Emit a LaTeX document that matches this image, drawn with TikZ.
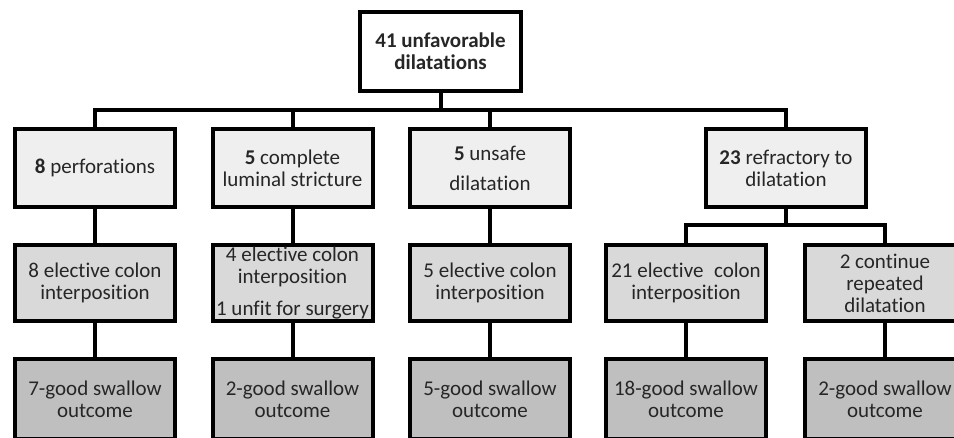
\documentclass[tikz,border=0pt]{standalone}
\usepackage{fontspec}
\setmainfont{Carlito}[Ligatures=NoCommon]
\definecolor{fillA}{HTML}{EFEFEF}
\definecolor{fillB}{HTML}{D9D9D9}
\definecolor{fillC}{HTML}{BFBFBF}
\definecolor{txt}{HTML}{262626}
\begin{document}
\begin{tikzpicture}[x=1pt,y=-1pt,
  box/.style={draw=black, line width=4pt, align=center, inner sep=0pt,
    font=\fontsize{21}{22}\selectfont, text=txt,
    minimum width=160pt, minimum height=78pt},
  lvlA/.style={box, fill=fillA},
  lvlB/.style={box, fill=fillB, minimum height=76pt},
  lvlC/.style={box, fill=fillC, minimum height=80pt},
  conn/.style={draw=black, line width=4pt, line join=miter}]
\useasboundingbox (0,0) rectangle (954,437);
\clip (0,0) rectangle (954,437);
\fill[white] (0,0) rectangle (954,437);

\node[box, fill=white, minimum width=161pt, minimum height=79pt] (top) at (440.5,51.5)
  {\bfseries 41 unfavorable\\\bfseries dilatations};

\node[lvlA] (p1) at (95,168) {\textbf{8} perforations};
\node[lvlA] (p2) at (292.5,168) {\textbf{5} complete\\luminal stricture};
\node[lvlA, font=\fontsize{21}{30}\selectfont] (p3) at (490,168) {\textbf{5} unsafe\\dilatation};
\node[lvlA] (p4) at (786,168) {\textbf{23} refractory to\\dilatation};

\node[lvlB] (q1) at (95,283) {8 elective colon\\interposition};
\node[lvlB] (q2) at (292.5,283) {4 elective colon\\interposition\\[10pt]1 unfit for surgery};
\node[lvlB] (q3) at (490,283) {5 elective colon\\interposition};
\node[lvlB] (q4) at (686,283) {21 elective\enspace colon\\interposition};
\node[lvlB] (q5) at (885,283) {2 continue\\repeated\\dilatation};

\node[lvlC] (r1) at (95,399) {7-good swallow\\outcome};
\node[lvlC] (r2) at (292.5,399) {2-good swallow\\outcome};
\node[lvlC] (r3) at (490,399) {5-good swallow\\outcome};
\node[lvlC] (r4) at (686,399) {18-good swallow\\outcome};
\node[lvlC] (r5) at (885,399) {2-good swallow\\outcome};

\coordinate (bus) at (441,110);
\coordinate (bus2) at (786,225);

\draw[conn] (top.south) -- (top.south |- bus);
\draw[conn] (p1.north) -- (p1.north |- bus) -- (p4.north |- bus) -- (p4.north);
\draw[conn] (p2.north) -- (p2.north |- bus);
\draw[conn] (p3.north) -- (p3.north |- bus);

\draw[conn] (p1) -- (q1);
\draw[conn] (p2) -- (q2);
\draw[conn] (p3) -- (q3);
\draw[conn] (p4.south) -- (bus2);
\draw[conn] (q4.north) -- (q4.north |- bus2) -- (q5.north |- bus2) -- (q5.north);

\draw[conn] (q1) -- (r1);
\draw[conn] (q2) -- (r2);
\draw[conn] (q3) -- (r3);
\draw[conn] (q4) -- (r4);
\draw[conn] (q5) -- (r5);
\end{tikzpicture}
\end{document}
